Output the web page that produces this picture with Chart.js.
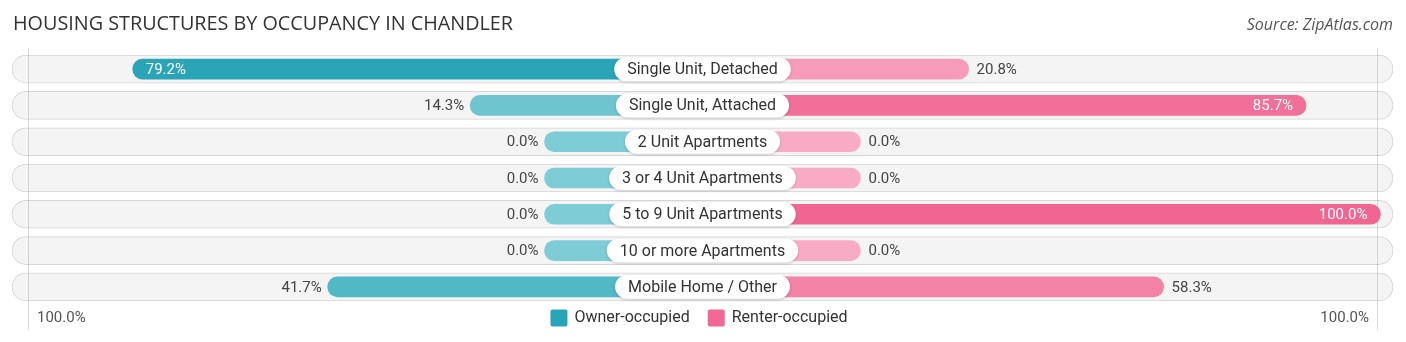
<!DOCTYPE html>
<html>
<head>
<meta charset="utf-8">
<script src="https://cdn.jsdelivr.net/npm/chart.js@4/dist/chart.umd.min.js"></script>
<style>
html,body{margin:0;padding:0;background:#fff;}
#wrap{position:relative;width:1406px;height:342px;}
canvas{display:block;}
</style>
</head>
<body>
<div id="wrap"><canvas id="c" width="1406" height="342"></canvas></div>
<script>
const chartTitle = 'HOUSING STRUCTURES BY OCCUPANCY IN CHANDLER';
const sourceText = 'Source: ZipAtlas.com';
const categories = ['Single Unit, Detached', 'Single Unit, Attached', '2 Unit Apartments', '3 or 4 Unit Apartments', '5 to 9 Unit Apartments', '10 or more Apartments', 'Mobile Home / Other'];
const ownerValues = [79.2, 14.3, 0.0, 0.0, 0.0, 0.0, 41.7];
const renterValues = [20.8, 85.7, 0.0, 0.0, 100.0, 0.0, 58.3];
const seriesNames = ['Owner-occupied', 'Renter-occupied'];
const axisEndLabels = ['100.0%', '100.0%'];

// layout constants (units of the value axis)
const OFFSET = 30.38;   // minimum bar stub under the centre label
const RANGE = 132.8;    // half-width of the row pill
const GUIDE = 129.7;    // faint guide lines

const OWNER_LIGHT = [125, 204, 214], OWNER_DARK = [20, 155, 175];
const RENTER_LIGHT = [248, 171, 196], RENTER_DARK = [240, 101, 146];
const mix = (a, b, t) => 'rgb(' + a.map((v, i) => Math.round(v + (b[i] - v) * t)).join(',') + ')';
const OWNER_LEGEND = 'rgb(41,165,184)', RENTER_LEGEND = 'rgb(240,104,147)';

const fmt = v => v.toFixed(1) + '%';

function rr(ctx, x, y, w, h, r) {
  ctx.beginPath();
  ctx.moveTo(x + r, y);
  ctx.lineTo(x + w - r, y);
  ctx.arc(x + w - r, y + r, r, -Math.PI / 2, 0);
  ctx.lineTo(x + w, y + h - r);
  ctx.arc(x + w - r, y + h - r, r, 0, Math.PI / 2);
  ctx.lineTo(x + r, y + h);
  ctx.arc(x + r, y + h - r, r, Math.PI / 2, Math.PI);
  ctx.lineTo(x, y + r);
  ctx.arc(x + r, y + r, r, Math.PI, Math.PI * 1.5);
  ctx.closePath();
}

const decor = {
  id: 'decor',
  afterDatasetDraw(chart, args) {
    if (args.index !== 0) return;
    const ctx = chart.ctx, xs = chart.scales.x;
    ctx.save();
    ctx.strokeStyle = 'rgba(0,0,0,0.13)';
    ctx.lineWidth = 1;
    [-GUIDE, GUIDE].forEach(v => {
      const x = Math.round(xs.getPixelForValue(v)) + 0.5;
      ctx.beginPath(); ctx.moveTo(x, 48); ctx.lineTo(x, 330); ctx.stroke();
    });
    ctx.restore();
  },
  afterDatasetsDraw(chart) {
    const ctx = chart.ctx, xs = chart.scales.x, ys = chart.scales.y;
    const x0 = xs.getPixelForValue(0);
    ctx.save();
    // title & source
    ctx.textBaseline = 'alphabetic';
    ctx.fillStyle = '#333';
    ctx.font = '19.8px "Open Sans"';
    ctx.textAlign = 'left';
    ctx.fillText(chartTitle, 13, 30);
    ctx.fillStyle = '#555';
    ctx.font = 'italic 16px "Open Sans"';
    ctx.textAlign = 'right';
    ctx.fillText(sourceText, 1393, 30);

    categories.forEach((cat, i) => {
      const y = ys.getPixelForValue(i);
      // centre label
      ctx.font = '16px Roboto';
      const w = ctx.measureText(cat).width + 26, h = 24;
      ctx.save();
      ctx.shadowColor = 'rgba(0,0,0,0.18)';
      ctx.shadowBlur = 3;
      ctx.shadowOffsetY = 1;
      ctx.fillStyle = '#fff';
      rr(ctx, x0 - w / 2, y - h / 2, w, h, 12);
      ctx.fill();
      ctx.restore();
      ctx.fillStyle = '#333';
      ctx.textAlign = 'center';
      ctx.textBaseline = 'middle';
      ctx.fillText(cat, x0, y + 1);

      // value labels
      ctx.font = '15px Roboto';
      const ov = ownerValues[i];
      const ox = xs.getPixelForValue(-(OFFSET + ov));
      if (ov > 70) { ctx.fillStyle = '#fff'; ctx.textAlign = 'left'; ctx.fillText(fmt(ov), ox + 13, y + 1); }
      else { ctx.fillStyle = '#444'; ctx.textAlign = 'right'; ctx.fillText(fmt(ov), ox - 6, y + 1); }
      const rv = renterValues[i];
      const rx = xs.getPixelForValue(OFFSET + rv);
      if (rv > 70) { ctx.fillStyle = '#fff'; ctx.textAlign = 'right'; ctx.fillText(fmt(rv), rx - 13, y + 1); }
      else { ctx.fillStyle = '#444'; ctx.textAlign = 'left'; ctx.fillText(fmt(rv), rx + 8, y + 1); }
    });

    // bottom axis end labels
    const ly = 318;
    ctx.font = '15px Roboto';
    ctx.fillStyle = '#555';
    ctx.textBaseline = 'middle';
    ctx.textAlign = 'left';
    ctx.fillText(axisEndLabels[0], 37, ly);
    ctx.textAlign = 'right';
    ctx.fillText(axisEndLabels[1], 1369, ly);

    // legend
    ctx.font = '16px Roboto';
    const cols = [OWNER_LEGEND, RENTER_LEGEND];
    const widths = seriesNames.map(n => 17 + 7 + ctx.measureText(n).width);
    const gap = 18;
    const total = widths[0] + widths[1] + gap;
    let lx = 699 - total / 2;
    seriesNames.forEach((n, k) => {
      ctx.fillStyle = cols[k];
      rr(ctx, lx, ly - 8.5, 17, 17, 2);
      ctx.fill();
      ctx.fillStyle = '#333';
      ctx.textAlign = 'left';
      ctx.fillText(n, lx + 24, ly);
      lx += widths[k] + gap;
    });
    ctx.restore();
  }
};

new Chart(document.getElementById('c'), {
  type: 'bar',
  data: {
    labels: categories,
    datasets: [
      {
        label: 'bg',
        data: categories.map(() => [-RANGE, RANGE]),
        backgroundColor: '#f4f4f4',
        borderColor: '#d6d6d6',
        borderWidth: 1,
        borderRadius: 14,
        borderSkipped: false,
        barThickness: 28,
        grouped: false,
        order: 3,
        clip: false
      },
      {
        label: seriesNames[0],
        data: ownerValues.map(v => [-(OFFSET + v), 0]),
        backgroundColor: ctx => mix(OWNER_LIGHT, OWNER_DARK, ownerValues[ctx.dataIndex] / 100),
        borderWidth: 0,
        borderRadius: 10,
        borderSkipped: false,
        barThickness: 20,
        grouped: false,
        order: 2,
        clip: false
      },
      {
        label: seriesNames[1],
        data: renterValues.map(v => [0, OFFSET + v]),
        backgroundColor: ctx => mix(RENTER_LIGHT, RENTER_DARK, renterValues[ctx.dataIndex] / 100),
        borderWidth: 0,
        borderRadius: 10,
        borderSkipped: false,
        barThickness: 20,
        grouped: false,
        order: 1,
        clip: false
      }
    ]
  },
  options: {
    indexAxis: 'y',
    responsive: false,
    animation: false,
    layout: { padding: { left: 12, right: 13, top: 51, bottom: 37 } },
    scales: {
      x: { display: false, min: -RANGE, max: RANGE },
      y: { display: false }
    },
    plugins: { legend: { display: false }, tooltip: { enabled: false } }
  },
  plugins: [decor]
});
</script>
</body>
</html>
